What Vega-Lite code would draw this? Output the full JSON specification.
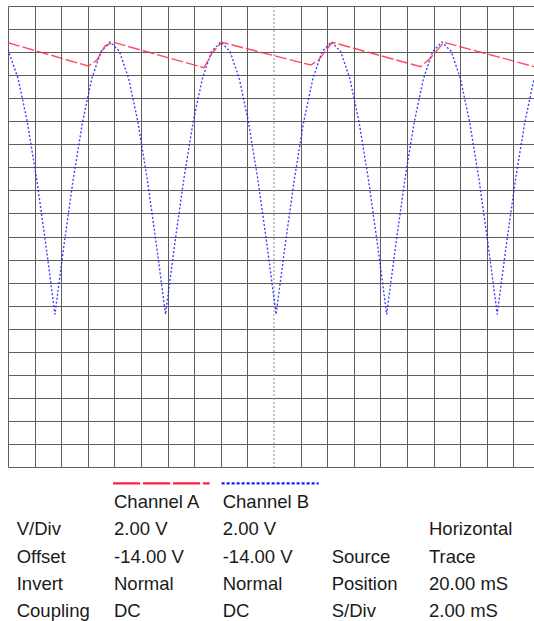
{
  "$schema": "https://vega.github.io/schema/vega-lite/v6.json",
  "background": "white",
  "padding": {"left": 8, "top": 5, "right": 0, "bottom": 0},
  "spacing": 0,
  "config": {
    "view": {"stroke": null},
    "concat": {"spacing": 0},
    "axis": {"domain": false, "ticks": false, "labels": false, "gridColor": "#5e5e5e", "gridWidth": 1, "gridOpacity": 1}
  },
  "datasets": {
    "wave": [
      {"ch": "B", "t": 0, "v": 22.21},
      {"ch": "B", "t": 0.759, "v": 19.71},
      {"ch": "B", "t": 1.452, "v": 15.95},
      {"ch": "B", "t": 2.144, "v": 11.06},
      {"ch": "B", "t": 2.837, "v": 5.36},
      {"ch": "B", "t": 3.53, "v": -0.75},
      {"ch": "B", "t": 4.223, "v": 5.36},
      {"ch": "B", "t": 4.916, "v": 11.06},
      {"ch": "B", "t": 5.608, "v": 15.95},
      {"ch": "B", "t": 6.301, "v": 19.71},
      {"ch": "B", "t": 6.994, "v": 22.06},
      {"ch": "B", "t": 7.687, "v": 22.87},
      {"ch": "B", "t": 8.38, "v": 22.06},
      {"ch": "B", "t": 9.072, "v": 19.71},
      {"ch": "B", "t": 9.765, "v": 15.95},
      {"ch": "B", "t": 10.458, "v": 11.06},
      {"ch": "B", "t": 11.151, "v": 5.36},
      {"ch": "B", "t": 11.844, "v": -0.75},
      {"ch": "B", "t": 12.537, "v": 5.36},
      {"ch": "B", "t": 13.23, "v": 11.06},
      {"ch": "B", "t": 13.922, "v": 15.95},
      {"ch": "B", "t": 14.615, "v": 19.71},
      {"ch": "B", "t": 15.308, "v": 22.06},
      {"ch": "B", "t": 16.001, "v": 22.87},
      {"ch": "B", "t": 16.694, "v": 22.06},
      {"ch": "B", "t": 17.386, "v": 19.71},
      {"ch": "B", "t": 18.079, "v": 15.95},
      {"ch": "B", "t": 18.772, "v": 11.06},
      {"ch": "B", "t": 19.465, "v": 5.36},
      {"ch": "B", "t": 20.158, "v": -0.75},
      {"ch": "B", "t": 20.851, "v": 5.36},
      {"ch": "B", "t": 21.544, "v": 11.06},
      {"ch": "B", "t": 22.236, "v": 15.95},
      {"ch": "B", "t": 22.929, "v": 19.71},
      {"ch": "B", "t": 23.622, "v": 22.06},
      {"ch": "B", "t": 24.315, "v": 22.87},
      {"ch": "B", "t": 25.008, "v": 22.06},
      {"ch": "B", "t": 25.7, "v": 19.71},
      {"ch": "B", "t": 26.393, "v": 15.95},
      {"ch": "B", "t": 27.086, "v": 11.06},
      {"ch": "B", "t": 27.779, "v": 5.36},
      {"ch": "B", "t": 28.472, "v": -0.75},
      {"ch": "B", "t": 29.165, "v": 5.36},
      {"ch": "B", "t": 29.858, "v": 11.06},
      {"ch": "B", "t": 30.55, "v": 15.95},
      {"ch": "B", "t": 31.243, "v": 19.71},
      {"ch": "B", "t": 31.936, "v": 22.06},
      {"ch": "B", "t": 32.629, "v": 22.87},
      {"ch": "B", "t": 33.322, "v": 22.06},
      {"ch": "B", "t": 34.014, "v": 19.71},
      {"ch": "B", "t": 34.707, "v": 15.95},
      {"ch": "B", "t": 35.4, "v": 11.06},
      {"ch": "B", "t": 36.093, "v": 5.36},
      {"ch": "B", "t": 36.786, "v": -0.75},
      {"ch": "B", "t": 37.479, "v": 5.36},
      {"ch": "B", "t": 38.172, "v": 11.06},
      {"ch": "B", "t": 38.864, "v": 15.95},
      {"ch": "B", "t": 39.557, "v": 19.71},
      {"ch": "A", "t": 0, "v": 22.81},
      {"ch": "A", "t": 6.04, "v": 20.79},
      {"ch": "A", "t": 6.69, "v": 21.3},
      {"ch": "A", "t": 7.3, "v": 22.55},
      {"ch": "A", "t": 7.92, "v": 22.85},
      {"ch": "A", "t": 14.74, "v": 20.64},
      {"ch": "A", "t": 15.34, "v": 21.9},
      {"ch": "A", "t": 16.07, "v": 22.85},
      {"ch": "A", "t": 22.76, "v": 20.88},
      {"ch": "A", "t": 23.38, "v": 21.35},
      {"ch": "A", "t": 24.38, "v": 22.85},
      {"ch": "A", "t": 31.03, "v": 20.73},
      {"ch": "A", "t": 31.73, "v": 21.45},
      {"ch": "A", "t": 32.78, "v": 22.85},
      {"ch": "A", "t": 39.55, "v": 20.74}
    ],
    "marker": [{"t": 20}],
    "legend": [
      {"ch": "A", "x1": 0.99, "x2": 1.88, "r": 0.1},
      {"ch": "B", "x1": 1.99, "x2": 2.88, "r": 0.1}
    ],
    "table": [
      {"col": 1, "row": 1, "label": "Channel A"},
      {"col": 2, "row": 1, "label": "Channel B"},
      {"col": 0, "row": 2, "label": "V/Div"},
      {"col": 1, "row": 2, "label": "2.00 V"},
      {"col": 2, "row": 2, "label": "2.00 V"},
      {"col": 4, "row": 2, "label": "Horizontal"},
      {"col": 0, "row": 3, "label": "Offset"},
      {"col": 1, "row": 3, "label": "-14.00 V"},
      {"col": 2, "row": 3, "label": "-14.00 V"},
      {"col": 3, "row": 3, "label": "Source"},
      {"col": 4, "row": 3, "label": "Trace"},
      {"col": 0, "row": 4, "label": "Invert"},
      {"col": 1, "row": 4, "label": "Normal"},
      {"col": 2, "row": 4, "label": "Normal"},
      {"col": 3, "row": 4, "label": "Position"},
      {"col": 4, "row": 4, "label": "20.00 mS"},
      {"col": 0, "row": 5, "label": "Coupling"},
      {"col": 1, "row": 5, "label": "DC"},
      {"col": 2, "row": 5, "label": "DC"},
      {"col": 3, "row": 5, "label": "S/Div"},
      {"col": 4, "row": 5, "label": "2.00 mS"}
    ]
  },
  "vconcat": [
    {
      "width": 526,
      "height": 461,
      "layer": [
        {
          "data": {"name": "marker"},
          "mark": {"type": "rule", "stroke": "#a0a0a0", "strokeWidth": 1.2, "strokeDash": [2, 2]},
          "encoding": {
            "x": {"field": "t", "type": "quantitative", "title": null,
              "scale": {"domain": [0, 39.55], "nice": false, "zero": false},
              "axis": {"values": [0, 2, 4, 6, 8, 10, 12, 14, 16, 18, 22, 24, 26, 28, 30, 32, 34, 36, 38], "grid": true, "title": null}}
          }
        },
        {
          "data": {"name": "wave"},
          "transform": [{"filter": "datum.ch === 'B'"}],
          "mark": {"type": "line", "stroke": "#1f1fff", "strokeWidth": 1.4, "strokeDash": [2, 2], "opacity": 0.85, "clip": true},
          "encoding": {
            "x": {"field": "t", "type": "quantitative", "title": null,
              "scale": {"domain": [0, 39.55], "nice": false, "zero": false},
              "axis": {"values": [0, 2, 4, 6, 8, 10, 12, 14, 16, 18, 22, 24, 26, 28, 30, 32, 34, 36, 38], "grid": true, "title": null}},
            "y": {"field": "v", "type": "quantitative", "title": null,
              "scale": {"domain": [-14, 26], "nice": false, "zero": false},
              "axis": {"values": [-14, -12, -10, -8, -6, -4, -2, 0, 2, 4, 6, 8, 10, 12, 14, 16, 18, 20, 22, 24, 26], "grid": true, "title": null}}
          }
        },
        {
          "data": {"name": "wave"},
          "transform": [{"filter": "datum.ch === 'A'"}],
          "mark": {"type": "line", "stroke": "#ff2a4a", "strokeWidth": 1.4, "strokeDash": [12, 3], "opacity": 0.85, "clip": true},
          "encoding": {
            "x": {"field": "t", "type": "quantitative", "title": null,
              "scale": {"domain": [0, 39.55], "nice": false, "zero": false},
              "axis": {"values": [0, 2, 4, 6, 8, 10, 12, 14, 16, 18, 22, 24, 26, 28, 30, 32, 34, 36, 38], "grid": true, "title": null}},
            "y": {"field": "v", "type": "quantitative", "title": null,
              "scale": {"domain": [-14, 26], "nice": false, "zero": false},
              "axis": {"values": [-14, -12, -10, -8, -6, -4, -2, 0, 2, 4, 6, 8, 10, 12, 14, 16, 18, 20, 22, 24, 26], "grid": true, "title": null}}
          }
        }
      ]
    },
    {
      "width": 526,
      "height": 155,
      "layer": [
        {
          "data": {"name": "legend"},
          "transform": [{"filter": "datum.ch === 'A'"}],
          "mark": {"type": "rule", "stroke": "#ff1f3d", "strokeWidth": 2.3, "strokeDash": [27, 3]},
          "encoding": {
            "x": {"field": "x1", "type": "quantitative", "axis": null,
              "scale": {"domain": [0, 1, 2, 3, 4], "range": [8.7, 106, 214.7, 323.7, 421], "nice": false, "zero": false}},
            "x2": {"field": "x2"},
            "y": {"field": "r", "type": "quantitative", "axis": null,
              "scale": {"domain": [0, 5], "range": [12.7, 149.2], "nice": false, "zero": false}}
          }
        },
        {
          "data": {"name": "legend"},
          "transform": [{"filter": "datum.ch === 'B'"}],
          "mark": {"type": "rule", "stroke": "#1a1aff", "strokeWidth": 2.3, "strokeDash": [3, 2]},
          "encoding": {
            "x": {"field": "x1", "type": "quantitative", "axis": null,
              "scale": {"domain": [0, 1, 2, 3, 4], "range": [8.7, 106, 214.7, 323.7, 421], "nice": false, "zero": false}},
            "x2": {"field": "x2"},
            "y": {"field": "r", "type": "quantitative", "axis": null,
              "scale": {"domain": [0, 5], "range": [12.7, 149.2], "nice": false, "zero": false}}
          }
        },
        {
          "data": {"name": "table"},
          "mark": {"type": "text", "align": "left", "baseline": "alphabetic", "font": "Liberation Sans", "fontSize": 18.5, "fill": "#1a1a1a"},
          "encoding": {
            "x": {"field": "col", "type": "quantitative", "axis": null,
              "scale": {"domain": [0, 1, 2, 3, 4], "range": [8.7, 106, 214.7, 323.7, 421], "nice": false, "zero": false}},
            "y": {"field": "row", "type": "quantitative", "axis": null,
              "scale": {"domain": [0, 5], "range": [12.7, 149.2], "nice": false, "zero": false}},
            "text": {"field": "label"}
          }
        }
      ]
    }
  ]
}
